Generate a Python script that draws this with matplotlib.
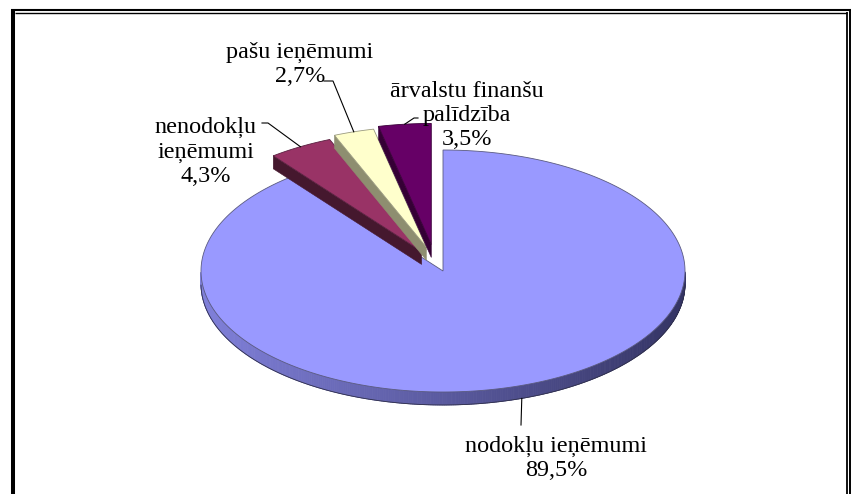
import numpy as np
import matplotlib
matplotlib.use("Agg")
import matplotlib.pyplot as plt
from matplotlib.patches import Polygon
from matplotlib.lines import Line2D

# ---------------- data ----------------
categories = ["nodokļu ieņēmumi", "nenodokļu ieņēmumi", "pašu ieņēmumi", "ārvalstu finanšu palīdzība"]
shares = [89.5, 4.3, 2.7, 3.5]
label_names = ["nodokļu ieņēmumi", "nenodokļu\nieņēmumi", "pašu ieņēmumi", "ārvalstu finanšu\npalīdzība"]
exploded = [False, True, True, True]

# ---------------- style ----------------
top_colors = ["#9999FF", "#993366", "#FFFFCC", "#660066"]
side_colors = ["#6A6AB8", "#45182E", "#8E8E70", "#350035"]
edge_colors = ["#5A5A80", "#5A2040", "#9A9A80", "#3A003A"]

W, H = 854, 494
fig = plt.figure(figsize=(W / 100, H / 100), dpi=100)
ax = fig.add_axes([0, 0, 1, 1])
ax.set_xlim(0, W)
ax.set_ylim(H, 0)
ax.axis("off")

cx, cy, a, b, depth = 443, 271, 242, 121, 13
explode_px, explode_rot = 29, 17.5


def pt(theta, ox=0.0, oy=0.0, dz=0.0):
    t = np.radians(theta)
    return (cx + ox + a * np.cos(t), cy + oy - b * np.sin(t) + dz)


total = sum(shares)
fracs = np.array(shares) / total
cum = np.concatenate([[0], np.cumsum(fracs)])

slices = []
for i in range(len(shares)):
    hi = 90 - 360 * cum[i]
    lo = 90 - 360 * cum[i + 1]
    mid = (hi + lo) / 2
    if exploded[i]:
        d = np.radians(mid + explode_rot)
        ox, oy = explode_px * np.cos(d), -explode_px * np.sin(d)
    else:
        ox, oy = 0.0, 0.0
    slices.append((hi, lo, mid, ox, oy))

# ---------------- draw slices ----------------
for i, (hi, lo, mid, ox, oy) in enumerate(slices):
    apex = (cx + ox, cy + oy)
    apex_d = (cx + ox, cy + oy + depth)
    # radial faces
    if np.cos(np.radians(hi)) < 0:
        p1 = pt(hi, ox, oy)
        p2 = pt(hi, ox, oy, depth)
        ax.add_patch(Polygon([apex, p1, p2, apex_d], closed=True,
                             facecolor=side_colors[i], edgecolor=side_colors[i], lw=0.4, zorder=2 + 3 * i))
    if np.cos(np.radians(lo)) > 0:
        p1 = pt(lo, ox, oy)
        p2 = pt(lo, ox, oy, depth)
        ax.add_patch(Polygon([apex, p1, p2, apex_d], closed=True,
                             facecolor=side_colors[i], edgecolor=side_colors[i], lw=0.4, zorder=2 + 3 * i))
    # curved front face (gradient)
    ts = np.linspace(lo, hi, 600)
    front = ts[np.sin(np.radians(ts)) < 0]
    if len(front) > 1:
        c_left = np.array([128, 128, 218]) / 255
        c_right = np.array([52, 52, 100]) / 255
        for k in range(len(front) - 1):
            t0, t1 = front[k], front[k + 1]
            q = [pt(t0, ox, oy), pt(t1, ox, oy), pt(t1, ox, oy, depth), pt(t0, ox, oy, depth)]
            f = (np.cos(np.radians((t0 + t1) / 2)) + 1) / 2
            col = c_left * (1 - f) + c_right * f
            ax.add_patch(Polygon(q, closed=True, facecolor=col, edgecolor=col, lw=0.6, zorder=2 + 3 * i))
        bottom = [pt(t, ox, oy, depth) for t in front]
        ax.plot([p[0] for p in bottom], [p[1] for p in bottom], color="#30304A", lw=0.6, zorder=2.5 + 3 * i)
    # top face
    arc = [pt(t, ox, oy) for t in np.linspace(lo, hi, 600)]
    ax.add_patch(Polygon([apex] + arc, closed=True, facecolor=top_colors[i],
                         edgecolor=edge_colors[i], lw=0.6, zorder=3 + 3 * i))

# ---------------- labels & leader lines ----------------
# (center x, baseline of last line)
label_pos = [(556, 476), (206, 182), (300, 82), (467, 145)]
leader_start = [(521, 425), (262, 123), (324, 81), (418, 118)]
leader_elbow = [None, (268, 123), (333, 81), (414, 118)]
anchor_theta = [-71, None, None, None]

for i, (hi, lo, mid, ox, oy) in enumerate(slices):
    pct = f"{shares[i]:.1f}".replace(".", ",") + "%"
    ax.text(label_pos[i][0], label_pos[i][1], label_names[i] + "\n" + pct,
            ha="center", va="baseline", multialignment="center",
            fontsize=17.4, family="Liberation Serif", color="black",
            linespacing=1.2, zorder=30)
    if anchor_theta[i] is not None:
        anchor = pt(anchor_theta[i], ox, oy, depth)
    else:
        anchor = pt(mid, ox, oy)
    xs = [leader_start[i][0]]
    ys = [leader_start[i][1]]
    if leader_elbow[i] is not None:
        xs.append(leader_elbow[i][0])
        ys.append(leader_elbow[i][1])
    xs.append(anchor[0])
    ys.append(anchor[1])
    ax.plot(xs, ys, color="black", lw=0.8, zorder=29)

# ---------------- frame ----------------
frame = [
    ((13, 13), (9, H), 2.9),
    ((11, 851), (10, 10), 1.5),
    ((15, 847.5), (12.8, 12.8), 1.0),
    ((850, 850), (9, H), 1.4),
    ((847, 847), (12, H), 1.3),
]
for xs, ys, lw in frame:
    ax.add_line(Line2D(xs, ys, color="black", lw=lw, solid_capstyle="butt", zorder=40))

fig.savefig("out.png", dpi=100)
